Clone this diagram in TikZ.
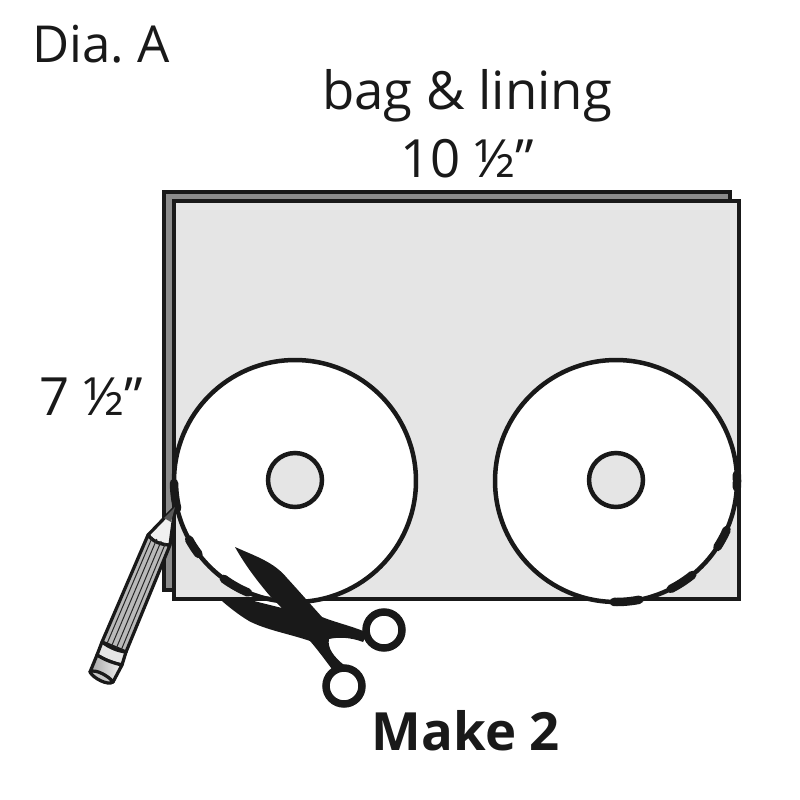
\documentclass[tikz,border=0pt]{standalone}
\usepackage{fontspec}
\setmainfont{Open Sans}
\usetikzlibrary{positioning, calc}
\definecolor{panel}{gray}{0.9}
\definecolor{backpanel}{gray}{0.55}
\definecolor{inkline}{gray}{0.1}
\tikzset{
  x=0.02cm,
  y=-0.02cm,
  every node/.style={inner sep=0pt, text=inkline},
  panelbox/.style={draw=inkline, line width=0.09cm, line join=miter},
  disc/.style={circle, draw=inkline, line width=0.09cm, fill=white, minimum size=4.84cm},
  hole/.style={circle, draw=inkline, line width=0.09cm, fill=panel, minimum size=1.08cm},
  cutmark/.style={draw=inkline, line width=0.17cm, line cap=round},
  ring/.style={circle, draw=inkline, line width=0.15cm, minimum size=0.72cm},
  pencilline/.style={draw=inkline, line width=0.065cm, line join=round},
  label/.style={font=\fontsize{30}{33}\selectfont},
}

\begin{document}
\begin{tikzpicture}
        \useasboundingbox (0,0) rectangle (800,800);

        % fabric
        \draw[panelbox, fill=backpanel] (164,192) rectangle (730,590);
        \draw[panelbox, fill=panel] (174,201) rectangle (739,599);

        % circles
        \node[disc] (leftdisc) at (295,481) {};
        \node[disc] (rightdisc) at (616,481) {};
        \node[hole] (lefthole) at (295,480) {};
        \node[hole] (righthole) at (616,480) {};

        % cutting marks
        \foreach \a/\b in {179/167, 151/143, 126/113} {
          \draw[cutmark] ([shift={(\a:121)}]leftdisc.center) arc[start angle=\a, end angle=\b, radius=121];
        }
        \foreach \a/\b in {3/-3, 33/24, 63/51, 91/79} {
          \draw[cutmark] ([shift={(\a:121)}]rightdisc.center) arc[start angle=\a, end angle=\b, radius=121];
        }

        % scissors
        \fill[inkline] (235,547) .. controls (255,556) and (274,562) .. (287,578)
              .. controls (298,590) and (312,606) .. (322,617)
              .. controls (337,623) and (352,626) .. (368,633)
              -- (363,642) .. controls (350,637) and (338,637) .. (329,639)
              .. controls (327,648) and (334,657) .. (344,665)
              -- (335,673) .. controls (325,660) and (318,650) .. (310,641)
              .. controls (290,634) and (266,630) .. (249,621)
              .. controls (239,615) and (230,608) .. (222,601)
              .. controls (240,601) and (255,598) .. (270,596)
              -- (254,601) -- (282,608) -- (270,596)
              .. controls (258,582) and (245,565) .. (235,547) -- cycle;
        \node[ring] (upperring) at (384,630) {};
        \node[ring] (lowerring) at (344,686) {};

        % pencil
        \filldraw[gray!12, pencilline] (175,507) -- (148,535) .. controls (153,542) and (162,545) .. (170,545) -- cycle;
        \fill[gray!70!black] (175,507) -- (164,518) -- (171,522) -- cycle;
        \draw[pencilline, fill=gray!55] (148,535) .. controls (153,542) and (162,545) .. (170,545)
              -- (126,652) -- (102,642) -- cycle;
        \foreach \s in {0.2,0.4,0.6,0.8} {
          \draw[gray!30!black, line width=0.02cm] ($(148,535)!\s!(170,545)$) -- ($(102,642)!\s!(126,652)$);
        }
        \draw[pencilline, fill=gray!20] (102,642) .. controls (110,648) and (118,651) .. (126,652)
              -- (122,665) .. controls (113,663) and (105,660) .. (97,655) -- cycle;
        \draw[pencilline, left color=gray!70, right color=gray!10] (97,655) .. controls (105,660) and (113,663) .. (122,665)
              -- (113,682) -- (90,672) -- cycle;
        \draw[pencilline, fill=gray!45] (90,672) .. controls (93,678) and (108,686) .. (113,682)
              .. controls (110,677) and (95,668) .. (90,672) -- cycle;

        % labels
        \node[label, font=\fontsize{29}{32}\selectfont] (dia) at (101,44) {Dia.\hspace{-0.08em} A};
        \node[label] (bag) at (467,96) {bag \& lining};
        \node[label] (width) at (467,159) {10 ½\symbol{34}};
        \node[label] (height) at (91,397) {7 ½\symbol{34}};
        \node[label, font=\fontsize{30}{33}\selectfont\bfseries] (make) at (466,731) {Make 2};
      \end{tikzpicture}
\end{document}
